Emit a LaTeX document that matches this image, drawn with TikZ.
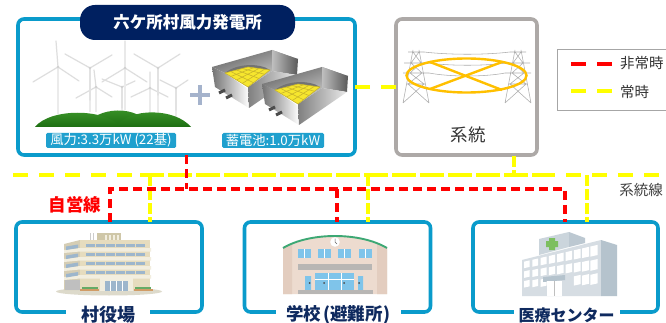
\documentclass[tikz,border=0pt]{standalone}
\usepackage{fontspec}
\setmainfont{Noto Sans CJK JP}
\usetikzlibrary{calc}
\definecolor{frameblue}{HTML}{0A9BCB}
\definecolor{navy}{HTML}{002060}
\definecolor{tagblue}{HTML}{1FA0CE}
\definecolor{framegray}{HTML}{ADA9A7}
\definecolor{linered}{HTML}{FF0000}
\definecolor{lineyellow}{HTML}{FFFF00}
\definecolor{ringorange}{HTML}{FFC000}
\definecolor{navytext}{HTML}{0F2A5F}
\definecolor{hallwall}{HTML}{E6DCBE}
\definecolor{hallside}{HTML}{D5CDB4}
\definecolor{hallband}{HTML}{F2EEDF}
\definecolor{hallroof}{HTML}{CFC7A8}
\definecolor{hallglass}{HTML}{9DB6CC}
\definecolor{hallground}{HTML}{DDDACB}
\definecolor{schoolwall}{HTML}{EDDBCF}
\definecolor{schoolside}{HTML}{E3CDBF}
\definecolor{schoolglass}{HTML}{7FC4EA}
\definecolor{schoolroof}{HTML}{3DA874}
\definecolor{schoolgray}{HTML}{B8B6B4}
\definecolor{hospwall}{HTML}{D6DDE3}
\definecolor{hospside}{HTML}{B5C3CD}
\definecolor{hosptop}{HTML}{CBD5DC}
\definecolor{hosptopside}{HTML}{BCC8D1}
\definecolor{hospcross}{HTML}{7CBF5F}
\definecolor{hilltop}{HTML}{3F9A2C}
\definecolor{hillbase}{HTML}{1D6E12}
\definecolor{cellyellow}{HTML}{F6E62E}
\definecolor{cellgrid}{HTML}{C9B52A}
\definecolor{plusblue}{HTML}{A5B3CC}
\tikzset{
  boxframe/.style={line width=3.6pt,rounded corners=6pt,fill=white,inner sep=0pt,outer sep=0pt,anchor=north west},
  sitebox/.style={boxframe,draw=frameblue},
  gridbox/.style={boxframe,draw=framegray},
  sitelabel/.style={fill=white,inner sep=0pt,text=navytext,font=\fontsize{16}{16}\selectfont\bfseries,minimum height=17pt},
  tagtext/.style={fill=tagblue,text=white,inner sep=0pt,rounded corners=1.5pt,font=\fontsize{13.3}{13.3}\selectfont,minimum height=15pt},
  redline/.style={draw=linered,line width=3.2pt,dash pattern=on 9pt off 5pt},
  yellowline/.style={draw=lineyellow,line width=3.2pt,dash pattern=on 15pt off 11pt},
  yellowdense/.style={draw=lineyellow,line width=3.2pt,dash pattern=on 24pt off 4pt},
  yellowshort/.style={draw=lineyellow,line width=3.2pt,dash pattern=on 11pt off 3pt},
  blade/.style={draw=black!13,line width=1.2pt,line cap=round},
  tower/.style={draw=black!8,line width=2pt},
  pylon/.style={draw=black!32,line width=.55pt},
}
\newcommand{\turbine}[8]{%
  \draw[tower] (#1,#2) -- (#1,#8);
  \draw[blade] (#1,#2) -- (#3) (#1,#2) -- (#4) (#1,#2) -- (#5,#6);
  \fill[black!18] (#1,#2) circle (1.4pt);
}
\newcommand{\battery}[2]{%
  \begin{scope}[shift={(#1,#2)}]
    \shade[left color=black!60,right color=black!12,shading angle=20] (0,0) -- (60,-17) -- (86,-8) -- (60,4) -- (36,20) -- (13,6) -- cycle;
    \shade[left color=black!25,right color=black!65] (60,-17) -- (86,-8) -- (85,8) -- (60,4) -- cycle;
    \shade[left color=black!55,right color=white] (0,0) -- (13,6) -- (36,22) -- (37,41) -- (3,20) -- cycle;
    \shade[left color=black!50,right color=black!8] (36,20) -- (60,4) -- (85,8) -- (37,41) -- cycle;
    \fill[black!55] (13,6) .. controls (25,-4) and (48,-4) .. (58,3) -- cycle;
    \fill[cellyellow] (13,6) -- (36,0) -- (58,3) -- (36,20) -- cycle;
    \foreach \a in {0,.25,.5,.75,1}{
      \draw[cellgrid,line width=.6pt] ($(13,6)!\a!(36,0)$) -- ($(36,20)!\a!(58,3)$);
      \draw[cellgrid,line width=.6pt] ($(13,6)!\a!(36,20)$) -- ($(36,0)!\a!(58,3)$);
    }
    \draw[black!70,line width=3pt] (7,26) -- (13,23);
    \draw[black!70,line width=3pt] (14,31) -- (20,28);
  \end{scope}
}
\newcommand{\pylonat}[1]{%
  \begin{scope}[shift={(#1,0)}]
    \draw[pylon] (-3,50) -- (-13,103) (3,50) -- (13,103)
      (-8,52) -- (8,52) (-12,63) -- (12,63) (-13,73) -- (13,73) (-9,84) -- (9,84)
      (-3,52) -- (5,63) -- (-6,73) -- (8,84) -- (-13,103)
      (3,52) -- (-5,63) -- (6,73) -- (-8,84) -- (13,103);
  \end{scope}
}
\newcommand{\hwin}[2]{%
  \pgfmathsetmacro{\hx}{524+#1*8.3}
  \pgfmathsetmacro{\ht}{(\hx-524)/73}
  \pgfmathsetmacro{\hw}{5.5+1.8*\ht}
  \pgfmathsetmacro{\hh}{6.5+4*\ht}
  \pgfmathsetmacro{\hy}{261.7-16.7*\ht+#2*(9.7+4.9*\ht)}
  \fill[white] (\hx,\hy) -- (\hx+\hw,\hy-.227*\hw) -- (\hx+\hw,\hy-.227*\hw+\hh) -- (\hx,\hy+\hh) -- cycle;
}
\begin{document}
\begin{tikzpicture}[x=1pt,y=-1pt]
\useasboundingbox (0,0) rectangle (666,323);
\fill[white] (0,0) rectangle (666,323);

% boxes
\node[sitebox,minimum width=337pt,minimum height=136pt] (plant) at (18,19) {};
\node[gridbox,minimum width=141pt,minimum height=136pt] (grid) at (396,19) {};
\node[sitebox,minimum width=186pt,minimum height=90pt] (hall) at (16,222) {};
\node[sitebox,minimum width=186pt,minimum height=90pt] (school) at (244.5,222) {};
\node[sitebox,minimum width=185pt,minimum height=90pt] (clinic) at (473,222) {};
\node[fill=navy,text=white,rounded corners=15pt,minimum width=215pt,minimum height=35pt,inner sep=0pt,font=\fontsize{16.5}{16.5}\selectfont\bfseries] (title) at (187.5,22.5) {六ケ所村風力発電所};

% connector anchor points
\coordinate (ybusL) at (13,175);
\coordinate (ybusA) at (140,175);
\coordinate (ybusB) at (540,175);
\coordinate (ybusR) at (666,175);
\coordinate (rbusL) at (110,189);
\coordinate (rbusR) at (565,189);
\coordinate (rdrop) at (plant.south |- rbusL);
\coordinate (gdrop) at (514,156);
\coordinate (gbus) at (gdrop |- ybusL);
\coordinate (yA) at (150,175);
\coordinate (yB) at (368,175);
\coordinate (yC) at (587,175);
\coordinate (rB) at (337,189);

% yellow (normal) lines
\draw[yellowline] (ybusL) -- (ybusA);
\draw[yellowdense] (ybusA) -- (ybusB);
\draw[yellowline] (ybusB) -- (ybusR);
\draw[yellowshort] (gdrop) -- (gbus);
\draw[yellowshort] (yA) -- (yA |- hall.north);
\draw[yellowshort] (yB) -- (yB |- school.north);
\draw[yellowshort] (yC) -- (yC |- clinic.north);
\draw[draw=lineyellow,line width=3.2pt,dash pattern=on 15pt off 11pt] (plant.east) -- (grid.west);
% red (emergency) lines
\draw[redline] (hall.north -| rbusL) -- (rbusL) -- (rbusR) -- (clinic.north -| rbusR);
\draw[redline] (plant.south) -- (rdrop);
\draw[redline] (rB) -- (school.north -| rB);

% labels on frames
\node[sitelabel,minimum width=84pt,font=\fontsize{18}{18}\selectfont\bfseries] (hallname) at (108,315) {村役場};
\node[sitelabel,minimum width=125pt,font=\fontsize{17.5}{17.5}\selectfont\bfseries] (schoolname) at (338.5,315) {学校\kern2pt(避難所\kern1pt)};
\node[sitelabel,minimum width=106pt] (clinicname) at (566.5,315) {医療センター};
\node[text=linered,font=\fontsize{17.5}{17.5}\selectfont\bfseries,inner sep=0pt] (selfline) at (75,205) {自営線};
\node[font=\fontsize{14.5}{14.5}\selectfont,text=black!75,inner sep=0pt] (gridline) at (641,190) {系統線};
\node[font=\fontsize{17.5}{17.5}\selectfont,text=black!80,inner sep=0pt] (gridname) at (468,135) {系統};

% turbines
\turbine{96}{87}{94,70}{76,98}{112}{97}{}{112}
\turbine{122}{87}{102,79}{135,81}{122}{108}{}{110}
\turbine{150}{88}{150,72}{131,97}{168}{97}{}{112}
\turbine{176}{88}{160,80}{188,80}{176}{110}{}{118}
\turbine{58}{67}{56,41}{33,82}{79}{81}{}{114}
\turbine{90}{68}{65,54}{112,55}{90}{100}{}{112}
\turbine{125}{68}{125,41}{102,82}{147}{82}{}{110}
\turbine{158}{68}{134,54}{180,54}{158}{95}{}{112}
% hills
\shade[top color=hilltop,bottom color=hillbase] (85,127) .. controls (95,106) and (140,104) .. (150,127) -- cycle;
\shade[top color=hilltop,bottom color=hillbase] (115,127) .. controls (130,107) and (175,108) .. (191,127) -- cycle;
\shade[top color=hilltop,bottom color=hillbase] (35,127) .. controls (50,108) and (105,108) .. (121,127) -- cycle;

\node[tagtext,minimum width=130pt] (windtag) at (111,140.5) {風力:3.3万kW (22基)};
\node[tagtext,minimum width=102pt] (batttag) at (273,140.5) {蓄電池:1.0万kW};

% plus
\draw[draw=plusblue,line width=3.4pt] (190,95) -- (210,95) (200,85) -- (200,105);
\battery{212}{67}
\battery{262}{84}

% pylons
\pylonat{416}
\pylonat{518}
\draw[pylon] (424,52) .. controls (450,55) and (485,55) .. (510,52)
  (428,63) .. controls (450,66) and (485,66) .. (506,63)
  (429,73) .. controls (450,77) and (485,77) .. (505,73);
\draw[ringorange,line width=2.4pt] (466.5,75.5) ellipse (60 and 17);
\draw[ringorange,line width=2.4pt] (430,62) -- (502,90) (430,89) -- (502,62);

% legend
\node[draw=black!35,line width=.8pt,fill=white,minimum width=120pt,minimum height=61pt,inner sep=0pt,outer sep=0pt,anchor=north west] (legend) at (557,49) {};
\coordinate (lr1) at (571,64);
\coordinate (lr2) at (612,64);
\coordinate (ly1) at (571,91);
\coordinate (ly2) at (612,91);
\draw[draw=linered,line width=3.2pt,dash pattern=on 15pt off 11pt] (lr1) -- (lr2);
\draw[draw=lineyellow,line width=3.2pt,dash pattern=on 15pt off 11pt] (ly1) -- (ly2);
\node[anchor=west,font=\fontsize{14.5}{14.5}\selectfont,text=black!80,inner sep=0pt] (legred) at (620,63) {非常時};
\node[anchor=west,font=\fontsize{14.5}{14.5}\selectfont,text=black!80,inner sep=0pt] (legyellow) at (620,92) {常時};

% town hall
\fill[hallground] (109,291.5) ellipse (53 and 4);
\fill[black!20] (90,233) rectangle (90.8,240) (93,233) rectangle (93.8,240);
\fill[hallroof] (97,233) rectangle (121,240);
\foreach \x in {105,109,113,117}{\fill[hallband] (\x,235) rectangle (\x+1.5,240);}
\fill[hallside] (64,244) -- (80,240) -- (80,290) -- (64,290) -- cycle;
\fill[hallwall] (80,240) rectangle (150,290);
\foreach \y in {250,259,268,277}{
  \fill[hallband] (64,\y) -- (80,\y-2) -- (151,\y-2) -- (151,\y+1.5) -- (80,\y+1.5) -- (64,\y+3) -- cycle;
}
\foreach \y in {243.5,252.5,261.5,271}{
  \foreach \x in {86,96,106,116,126,136}{\fill[hallglass] (\x,\y) rectangle (\x+8.5,\y+3.2);}
  \fill[hallglass] (66,\y+3) -- (78,\y+1) -- (78,\y+4.5) -- (66,\y+6.5) -- cycle;
}
\fill[black!25] (65,280) rectangle (80,290);
\fill[hallband] (100,275) rectangle (133,291);
\fill[hallglass] (105,281) rectangle (128,291);
\foreach \x in {110,116,122}{\fill[white] (\x,281) rectangle (\x+.6,291);}
\fill[green!45!black!60] (82,286.5) rectangle (98,289);
\fill[orange!70!black!60] (80,289) rectangle (99,290.5);
\fill[green!45!black!60] (135,286.5) rectangle (151,289);
\fill[orange!70!black!60] (134,289) rectangle (153,290.5);

% school
\fill[schoolwall] (283,248) .. controls (310,232) and (360,232) .. (387,248) -- (387,294) -- (283,294) -- cycle;
\fill[schoolside] (283,248) .. controls (286,246) and (290,244) .. (292,243) -- (292,294) -- (283,294) -- cycle;
\fill[schoolside] (387,248) .. controls (384,246) and (380,244) .. (377,243) -- (377,294) -- (387,294) -- cycle;
\draw[schoolroof,line width=1.9pt] (283,248) .. controls (310,232) and (360,232) .. (387,248);
\fill[white] (335,242) circle (4.8);
\draw[black!60,line width=.5pt] (335,238.5) -- (335,242) -- (337,244);
\foreach \x in {298,318,338,359}{\fill[schoolglass] (\x,249) rectangle (\x+12.5,258);
  \draw[white,line width=.6pt] (\x+6,249) -- (\x+6,258);}
\fill[schoolgray] (298,264) rectangle (372,270);
\fill[schoolglass] (315,273) rectangle (354,292);
\draw[white,line width=.6pt] (315,279) -- (354,279) (328,273) -- (328,292) (341,273) -- (341,292);
\fill[schoolglass] (305,276) rectangle (311,292) (358,276) rectangle (363,292);
\foreach \x/\y in {309.5/283,324/283,344/283,359/283}{\fill[black!70] (\x,\y) circle (1);}
\fill[schoolgray] (298,290) rectangle (373,294);

% hospital
\fill[hosptop] (539,239) -- (569,232) -- (569,247) -- (539,255) -- cycle;
\fill[hosptopside] (569,232) -- (585,238) -- (585,243) -- (569,247) -- cycle;
\fill[hospwall] (522,260) -- (601,240) -- (601,296) -- (522,296) -- cycle;
\fill[hospside] (601,240) -- (617,245) -- (617,296) -- (601,296) -- cycle;
\fill[hospcross] (549,238) rectangle (555,250) (546,241) rectangle (558,247);
\foreach \c in {0,...,8}{\hwin{\c}{0}\hwin{\c}{1}}
\foreach \c in {0,1,2,6,7,8}{\hwin{\c}{2}}
\fill[hospside] (543,277) -- (565,275) -- (565,280) -- (543,282) -- cycle;
\fill[white] (547,281) rectangle (562,296);
\draw[black!25,line width=.4pt] (554.5,281) -- (554.5,296);
\end{tikzpicture}
\end{document}
